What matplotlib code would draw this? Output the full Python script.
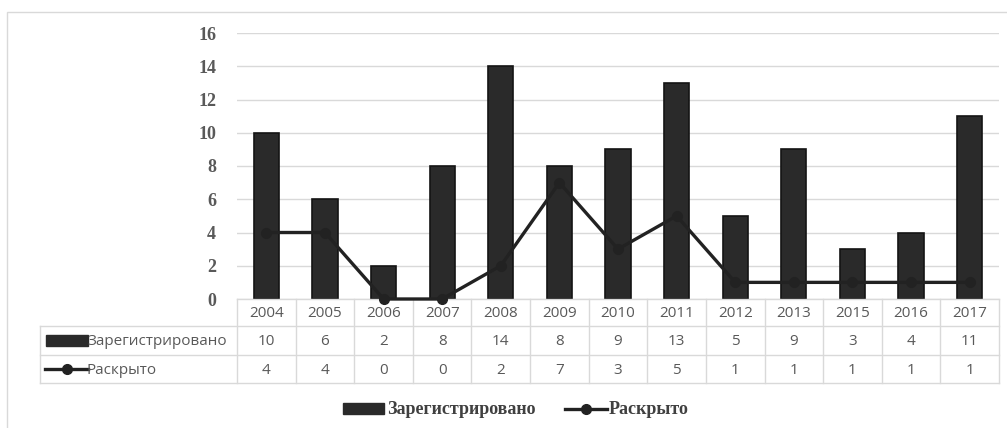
import matplotlib
matplotlib.use("Agg")
import matplotlib.pyplot as plt
from matplotlib.patches import Rectangle
from matplotlib.lines import Line2D
import matplotlib.transforms as mtransforms

years = ["2004", "2005", "2006", "2007", "2008", "2009", "2010", "2011",
         "2012", "2013", "2015", "2016", "2017"]
registered = [10, 6, 2, 8, 14, 8, 9, 13, 5, 9, 3, 4, 11]
solved = [4, 4, 0, 0, 2, 7, 3, 5, 1, 1, 1, 1, 1]
series_names = ["Зарегистрировано", "Раскрыто"]
yticks = [0, 2, 4, 6, 8, 10, 12, 14, 16]

W, H = 1007, 428
fig = plt.figure(figsize=(W / 100, H / 100), dpi=100)

# outer frame (chart area border)
fig.add_artist(Rectangle((7 / W, -0.05), (W + 10) / W, (H - 12) / H + 0.05,
                         transform=fig.transFigure, fill=False,
                         edgecolor="#d9d9d9", linewidth=1.0))

ax_l, ax_r, ax_t, ax_b = 237, 999, 33, 299
ax = fig.add_axes([ax_l / W, 1 - ax_b / H, (ax_r - ax_l) / W, (ax_b - ax_t) / H])
n = len(years)
x = list(range(n))
ax.set_xlim(-0.5, n - 0.5)
ax.set_ylim(0, 16)
ax.set_yticks(yticks)
ax.set_yticklabels([str(v) for v in yticks], family="Liberation Serif",
                   fontweight="bold", fontsize=13, color="#595959")
ax.tick_params(axis="y", length=0, pad=15)
ax.set_xticks([])
for s in ax.spines.values():
    s.set_visible(False)
ax.grid(axis="y", color="#d9d9d9", linewidth=1.0)
ax.set_axisbelow(True)

bar_color = "#2a2a2a"
ax.bar(x, registered, width=0.43, color=bar_color, edgecolor="#141414",
       linewidth=1.2, zorder=2)
ax.plot(x, solved, color="#222222", linewidth=2.4, marker="o",
        markersize=7, markerfacecolor="#222222", markeredgecolor="#222222",
        zorder=3, clip_on=False)

# table drawn in blended coords: x data, y pixels converted to axes fraction
def yf(px):
    return (ax_b - px) / (ax_b - ax_t)

trans = mtransforms.blended_transform_factory(ax.transData, ax.transAxes)
grid_c = "#d9d9d9"
lab_left = -0.5 - (ax_l - 40) / ((ax_r - ax_l) / n)
rows_y = [299, 326, 355, 383]

def hline(y, x0, x1):
    ax.add_line(Line2D([x0, x1], [yf(y), yf(y)], transform=trans, color=grid_c,
                       linewidth=1.0, clip_on=False))

def vline(xv, y0, y1):
    ax.add_line(Line2D([xv, xv], [yf(y0), yf(y1)], transform=trans, color=grid_c,
                       linewidth=1.0, clip_on=False))

hline(299, -0.5, n - 0.5)
hline(326, lab_left, n - 0.5)
hline(355, lab_left, n - 0.5)
hline(383, lab_left, n - 0.5)
for i in range(n + 1):
    vline(i - 0.5, 299, 383)
vline(lab_left, 326, 383)

tfam = "Open Sans"
tsize = 11
tfont = dict(family=tfam, fontsize=tsize, color="#595959",
             ha="center", va="center", transform=trans, clip_on=False)
for i in range(n):
    ax.text(i, yf((rows_y[0] + rows_y[1]) / 2 + 1), years[i], **tfont)
    ax.text(i, yf((rows_y[1] + rows_y[2]) / 2 + 1), str(registered[i]), **tfont)
    ax.text(i, yf((rows_y[2] + rows_y[3]) / 2 + 1), str(solved[i]), **tfont)

# row labels with legend keys (figure pixel coords)
def fx(px):
    return px / W

def fy(py):
    return 1 - py / H

y1 = (326 + 355) / 2
y2 = (355 + 383) / 2
fig.add_artist(Rectangle((fx(46), fy(y1 + 5)), (88 - 46) / W, 11 / H,
                         transform=fig.transFigure, color=bar_color))
fig.add_artist(Line2D([fx(45), fx(88)], [fy(y2), fy(y2)], transform=fig.transFigure,
                      color="#222222", linewidth=2.4))
fig.add_artist(Line2D([fx(67)], [fy(y2)], transform=fig.transFigure,
                      color="#222222", marker="o", markersize=7, linestyle="none"))
fig.text(fx(87), fy(y1 + 1), series_names[0], family=tfam, fontsize=tsize,
         color="#595959", ha="left", va="center")
fig.text(fx(87), fy(y2 + 1), series_names[1], family=tfam, fontsize=tsize,
         color="#595959", ha="left", va="center")

# bottom legend
ly = 409
fig.add_artist(Rectangle((fx(343), fy(ly + 5)), (384 - 343) / W, 11 / H,
                         transform=fig.transFigure, color=bar_color))
fig.text(fx(387), fy(ly), series_names[0], family="Liberation Serif",
         fontweight="bold", fontsize=13, color="#404040", ha="left", va="center")
fig.add_artist(Line2D([fx(565), fx(607)], [fy(ly), fy(ly)], transform=fig.transFigure,
                      color="#222222", linewidth=2.4))
fig.add_artist(Line2D([fx(586)], [fy(ly)], transform=fig.transFigure,
                      color="#222222", marker="o", markersize=7, linestyle="none"))
fig.text(fx(609), fy(ly), series_names[1], family="Liberation Serif",
         fontweight="bold", fontsize=13, color="#404040", ha="left", va="center")

fig.savefig("out.png", dpi=100, facecolor="white")
